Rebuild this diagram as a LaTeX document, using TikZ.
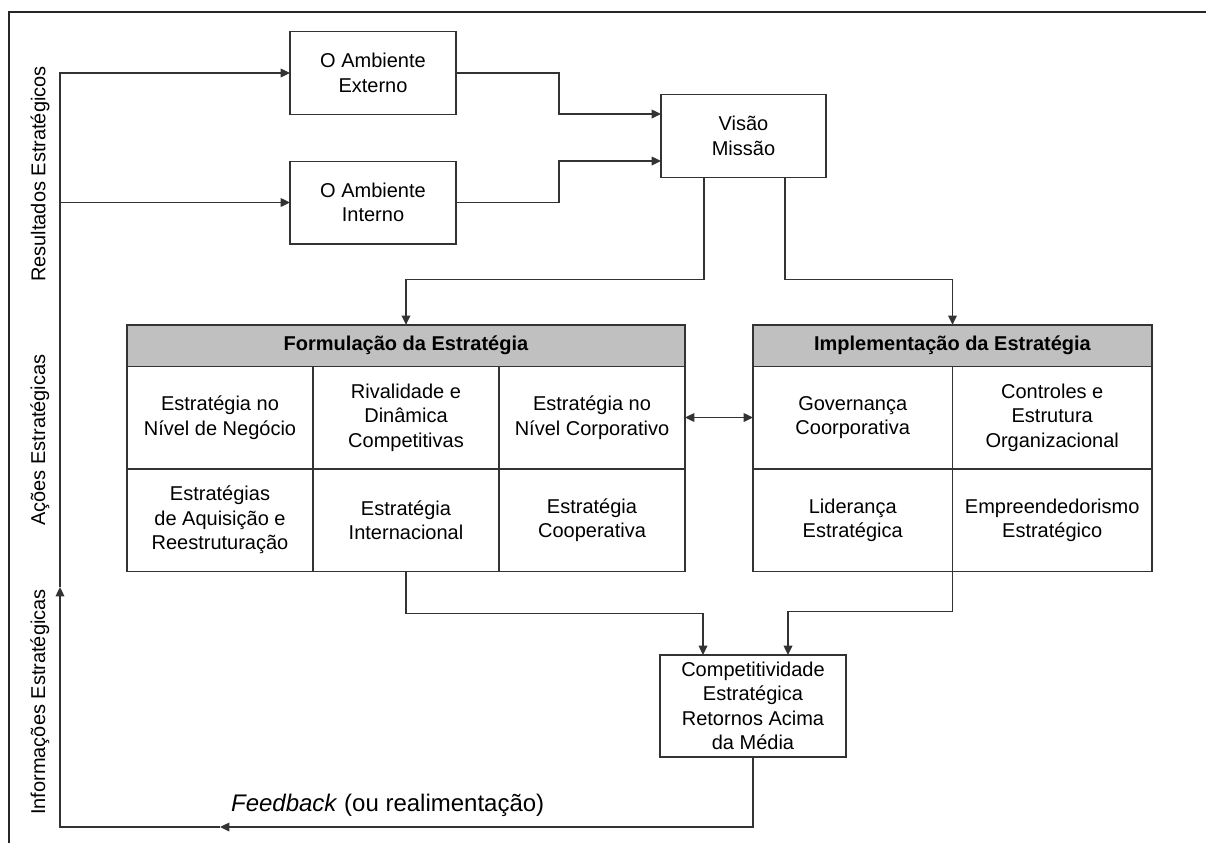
\documentclass[tikz,border=0pt]{standalone}
\usepackage{fontspec}
\setmainfont{Liberation Sans}
\usetikzlibrary{positioning,arrows.meta}

\begin{document}
\begin{tikzpicture}[x=0.75pt,y=-0.75pt,line width=1pt,
	>={Triangle[length=7pt,width=6.5pt]},
	every node/.style={font=\fontsize{15}{18.4}\selectfont},
	box/.style={draw=black!80,align=center,outer sep=0pt,minimum width=124.5pt,minimum height=62pt},
	head/.style={draw=black!80,fill={rgb,255:red,192;green,192;blue,192},outer sep=0pt,minimum height=31pt,font=\fontsize{15}{18.4}\selectfont\bfseries},
	cell/.style={draw=black!80,align=center,outer sep=0pt,minimum width=139.5pt,minimum height=77pt},
	link/.style={draw=black!80,->}]
	\useasboundingbox (0,0) rectangle (1206,843);
	\draw[black!85,line width=1.2pt] (9,843) -- (9,12) -- (1206,12);

	\node[box] (ext) at (373,73) {O Ambiente\\Externo};
	\node[box] (int) at (373,202.5) {O Ambiente\\Interno};
	\node[box,minimum width=123.75pt] (vis) at (743.5,136) {Visão\\Missão};

	\node[head,minimum width=418.5pt] (formh) at (406,345.5) {Formulação da Estratégia};
	\node[cell,anchor=north west] (f1) at (formh.south west) {Estratégia no\\Nível de Negócio};
	\node[cell] (f2) [right=0pt of f1] {Rivalidade e\\Dinâmica\\Competitivas};
	\node[cell] (f3) [right=0pt of f2] {Estratégia no\\Nível Corporativo};
	\node[cell] (f4) [below=0pt of f1] {Estratégias\\de Aquisição e\\Reestruturação};
	\node[cell] (f5) [below=0pt of f2] {Estratégia\\Internacional};
	\node[cell] (f6) [below=0pt of f3] {Estratégia\\Cooperativa};

	\node[head,minimum width=299.25pt] (implh) at (952.5,345.5) {Implementação da Estratégia};
	\node[cell,minimum width=149.6pt,anchor=north west] (i1) at (implh.south west) {Governança\\Coorporativa};
	\node[cell,minimum width=149.6pt] (i2) [right=0pt of i1] {Controles e\\Estrutura\\Organizacional};
	\node[cell,minimum width=149.6pt] (i3) [below=0pt of i1] {Liderança\\Estratégica};
	\node[cell,minimum width=149.6pt] (i4) [below=0pt of i2] {Empreendedorismo\\Estratégico};

	\node[box,minimum width=139.5pt,minimum height=76.5pt,inner ysep=1pt] (comp) at (753,706) {Competitividade\\Estratégica\\Retornos Acima\\da Média};

	\node[rotate=90] (res) at (40,174) {Resultados Estratégicos};
	\node[rotate=90] (acoes) at (40,440) {Ações Estratégicas};
	\node[rotate=90] (info) at (40,702) {Informações Estratégicas};
	\node[anchor=west,font=\fontsize{18}{22}\selectfont] (fb) at (226,805) {\textit{Feedback} (ou realimentação)};

	\coordinate (fbarr) at (220,827);
	\coordinate (uparr) at (60,587);

	\draw[link] (ext.east) -- ++(103,0) |- ([yshift=16.5pt]vis.west);
	\draw[link] (int.east) -- ++(103,0) |- ([yshift=-18.75pt]vis.west);
	\draw[link] ([xshift=-29.6pt]vis.south) -- ++(0,102) -| (formh.north);
	\draw[link] ([xshift=31pt]vis.south) -- ++(0,102) -| (implh.north);
	\draw[link,<->] (f3.east) -- (i1.west);
	\draw[link] (f5.south) -- ++(0,42) -| ([xshift=-37.5pt]comp.north);
	\draw[link] (i3.south east) -- ++(0,40) -| ([xshift=26.25pt]comp.north);
	\draw[link] (comp.south) |- (fbarr);
	\draw[link] (fbarr) -| (uparr);
	\draw[link] (uparr) |- (ext.west);
	\draw[link] (uparr |- int.west) -- (int.west);
\end{tikzpicture}
\end{document}
